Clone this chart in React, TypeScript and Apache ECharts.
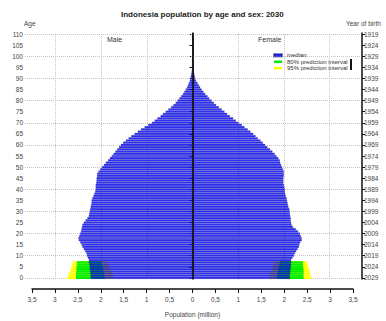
import React, { useEffect, useRef } from "react";
import * as echarts from "echarts";

// Single-year ages 0..110 on the vertical axis
const ages: string[] = Array.from({ length: 111 }, (_, i) => String(i));
const birthYears: string[] = ages.map((a) => String(2029 - Number(a)));

// Median projected population (million), index = age
const maleMedian: number[] = [
  2.23, 2.23, 2.24, 2.24, 2.25, 2.25, 2.26, 2.27, 2.27, 2.29,
  2.31, 2.32, 2.35, 2.38, 2.41, 2.43, 2.46, 2.49, 2.5, 2.48,
  2.46, 2.44, 2.43, 2.42, 2.41, 2.38, 2.34, 2.3, 2.27, 2.26,
  2.25, 2.24, 2.23, 2.22, 2.21, 2.21, 2.19, 2.17, 2.15, 2.13,
  2.12, 2.12, 2.12, 2.11, 2.1, 2.1, 2.09, 2.09, 2.06, 2.02,
  1.98, 1.94, 1.9, 1.85, 1.81, 1.77, 1.73, 1.69, 1.65, 1.61,
  1.57, 1.52, 1.46, 1.4, 1.34, 1.27, 1.2, 1.13, 1.05, 0.97,
  0.89, 0.83, 0.77, 0.7, 0.65, 0.59, 0.53, 0.47, 0.42, 0.37,
  0.33, 0.29, 0.25, 0.21, 0.18, 0.15, 0.12, 0.1, 0.08, 0.06,
  0.05, 0.04, 0.03, 0.02, 0.015, 0.012, 0.009, 0.007, 0.005, 0.004,
  0.003, 0.002, 0.0015, 0.001, 0.0007, 0.0005, 0.0003, 0.0002, 0.0001, 0.0001, 0.0001,
];
const femaleMedian: number[] = [
  2.13, 2.13, 2.14, 2.14, 2.15, 2.15, 2.16, 2.16, 2.16, 2.19,
  2.22, 2.24, 2.27, 2.3, 2.33, 2.34, 2.36, 2.39, 2.39, 2.37,
  2.35, 2.31, 2.26, 2.2, 2.17, 2.16, 2.15, 2.15, 2.14, 2.13,
  2.13, 2.12, 2.1, 2.09, 2.08, 2.07, 2.06, 2.04, 2.03, 2.02,
  2.02, 2.01, 2.0, 1.99, 1.99, 1.99, 2.0, 2.0, 2.0, 1.98,
  1.96, 1.94, 1.92, 1.91, 1.88, 1.84, 1.8, 1.75, 1.7, 1.64,
  1.59, 1.54, 1.49, 1.43, 1.38, 1.33, 1.27, 1.21, 1.14, 1.08,
  1.01, 0.95, 0.89, 0.82, 0.76, 0.7, 0.64, 0.58, 0.52, 0.47,
  0.42, 0.37, 0.33, 0.28, 0.24, 0.2, 0.17, 0.14, 0.11, 0.08,
  0.06, 0.05, 0.04, 0.03, 0.025, 0.02, 0.015, 0.011, 0.008, 0.006,
  0.004, 0.003, 0.002, 0.0015, 0.001, 0.0007, 0.0005, 0.0003, 0.0002, 0.0001, 0.0001,
];

// Prediction intervals for the cohorts not yet born (ages 0..7)
const maleLower95: number[] = [1.72, 1.74, 1.76, 1.78, 1.8, 1.82, 1.84, 1.87];
const maleLower80: number[] = [1.92, 1.93, 1.94, 1.95, 1.96, 1.97, 1.98, 1.99];
const maleUpper80: number[] = [2.55, 2.55, 2.55, 2.54, 2.54, 2.54, 2.53, 2.53];
const maleUpper95: number[] = [2.74, 2.72, 2.7, 2.68, 2.66, 2.65, 2.63, 2.62];
const femaleLower95: number[] = [1.67, 1.69, 1.7, 1.72, 1.74, 1.75, 1.77, 1.78];
const femaleLower80: number[] = [1.84, 1.85, 1.86, 1.87, 1.88, 1.89, 1.9, 1.91];
const femaleUpper80: number[] = [2.43, 2.43, 2.43, 2.43, 2.43, 2.42, 2.42, 2.42];
const femaleUpper95: number[] = [2.6, 2.59, 2.57, 2.56, 2.55, 2.53, 2.52, 2.51];

const gridAges: string[] = ["0", "10", "20", "30", "40", "50", "60", "70", "80", "90", "100", "110"];
const gridPop: number[] = [-3, -2, -1, 0, 1, 2, 3];

const FONT = "Liberation Sans, Arial, sans-serif";
const BLUE = "rgba(0,0,255,0.8)";
const GREEN = "#00ee00";
const YELLOW = "#ffff00";

const neg = (arr: number[]) => arr.map((v) => -v);
const diff = (hi: number[], lo: number[]) => hi.map((v, i) => v - lo[i]);

function rangeSeries(stack: string, lower: number[], upper: number[], sign: number, color: string, name: string) {
  const common = { type: "bar", stack, barGap: "-100%", barCategoryGap: "0%", silent: true, xAxisIndex: 0, yAxisIndex: 0 };
  return [
    { ...common, data: lower.map((v) => sign * v), itemStyle: { color: "transparent" } },
    { ...common, name, data: diff(upper, lower).map((v) => sign * v), itemStyle: { color } },
  ];
}

export default function App() {
  const ref = useRef<HTMLDivElement>(null);

  useEffect(() => {
    if (!ref.current) return;
    const chart = echarts.init(ref.current, null, { renderer: "svg" });
    const labelStyle = { fontFamily: FONT, fontSize: 6.5, color: "#444" };

    chart.setOption({
      animation: false,
      backgroundColor: "#fff",
      textStyle: { fontFamily: FONT },
      title: {
        text: "Indonesia population by age and sex: 2030",
        left: 121,
        top: 10,
        padding: 0,
        textStyle: { fontFamily: FONT, fontSize: 8, fontWeight: "bold", color: "#222" },
      },
      legend: {
        data: ["median", "80% prediction interval", "95% prediction interval"],
        orient: "vertical",
        left: 273,
        top: 52,
        padding: 0,
        itemGap: 0,
        itemWidth: 8,
        itemHeight: 2.5,
        icon: "rect",
        selectedMode: false,
        textStyle: { fontFamily: FONT, fontSize: 6, color: "#333", lineHeight: 6.5 },
      },
      grid: [
        { left: 25, right: 26, top: 33, height: 246 },
        { left: 32, right: 33, top: 280, height: 9 },
      ],
      xAxis: [
        { type: "value", gridIndex: 0, min: -3.665, max: 3.665, show: false },
        {
          type: "value",
          gridIndex: 1,
          min: -3.5,
          max: 3.5,
          interval: 0.5,
          name: "Population (million)",
          nameLocation: "middle",
          nameGap: 22,
          nameTextStyle: labelStyle,
          axisLine: { show: true, lineStyle: { color: "#111", width: 1.5 } },
          axisTick: { show: true, length: 4, lineStyle: { color: "#111" } },
          splitLine: { show: false },
          axisLabel: {
            ...labelStyle,
            margin: 7,
            formatter: (v: number) => String(Math.abs(v)).replace(".", ","),
          },
        },
      ],
      yAxis: [
        {
          type: "category",
          gridIndex: 0,
          data: ages,
          position: "left",
          axisLine: { show: true, lineStyle: { color: "#111", width: 1.5 } },
          axisTick: { show: true, interval: 4, alignWithLabel: true, length: 3, lineStyle: { color: "#111" } },
          axisLabel: { ...labelStyle, interval: 4, margin: 2 },
          splitLine: { show: false },
        },
        {
          type: "category",
          gridIndex: 0,
          data: birthYears,
          position: "right",
          offset: 2,
          axisLine: { show: true, lineStyle: { color: "#111", width: 1.5 } },
          axisTick: { show: true, interval: 4, alignWithLabel: true, length: 3, lineStyle: { color: "#111" } },
          axisLabel: { ...labelStyle, interval: 4, margin: 2 },
          splitLine: { show: false },
        },
        { type: "value", gridIndex: 1, show: false },
      ],
      graphic: [
        { type: "text", left: 24, top: 20, style: { text: "Age", font: `6.5px ${FONT}`, fill: "#444" } },
        { type: "text", left: 346, top: 20, style: { text: "Year of birth", font: `6.5px ${FONT}`, fill: "#444" } },
        { type: "text", left: 107, top: 36, style: { text: "Male", font: `7px ${FONT}`, fill: "#333" } },
        { type: "text", left: 258, top: 36, style: { text: "Female", font: `7px ${FONT}`, fill: "#333" } },
        { type: "rect", z: 100, shape: { x: 351, y: 58, width: 9, height: 13 }, style: { fill: "#fff" } },
        { type: "rect", z: 101, shape: { x: 350, y: 59, width: 2, height: 11 }, style: { fill: "#111" } },
      ],
      series: [
        ...rangeSeries("m95", maleLower95, maleUpper95, -1, YELLOW, "95% prediction interval"),
        ...rangeSeries("f95", femaleLower95, femaleUpper95, 1, YELLOW, "95% prediction interval"),
        ...rangeSeries("m80", maleLower80, maleUpper80, -1, GREEN, "80% prediction interval"),
        ...rangeSeries("f80", femaleLower80, femaleUpper80, 1, GREEN, "80% prediction interval"),
        {
          type: "bar",
          name: "median",
          xAxisIndex: 0,
          yAxisIndex: 0,
          barGap: "-100%",
          barCategoryGap: "0%",
          data: neg(maleMedian),
          itemStyle: { color: BLUE, borderColor: "rgba(0,0,120,0.45)", borderWidth: 0.5 },
          markLine: {
            silent: true,
            z: 1,
            symbol: ["none", "none"],
            label: { show: false },
            lineStyle: { color: "#c4c4c4", type: "dotted", width: 1 },
            data: [
              ...gridAges.map((a) => ({ yAxis: a })),
              ...gridPop.map((p) => ({ xAxis: p })),
            ],
          },
        },
        {
          type: "bar",
          name: "median",
          xAxisIndex: 0,
          yAxisIndex: 0,
          barGap: "-100%",
          barCategoryGap: "0%",
          data: femaleMedian,
          itemStyle: { color: BLUE, borderColor: "rgba(0,0,120,0.45)", borderWidth: 0.5 },
          markLine: {
            silent: true,
            z: 6,
            symbol: ["none", "none"],
            label: { show: false },
            lineStyle: { color: "#111", type: "solid", width: 1.5 },
            data: [{ xAxis: 0 }],
          },
        },
      ],
    });

    return () => chart.dispose();
  }, []);

  return (
    <div
      ref={ref}
      style={{ position: "absolute", left: 0, top: 0, width: 386, height: 321, overflow: "hidden" }}
    />
  );
}
